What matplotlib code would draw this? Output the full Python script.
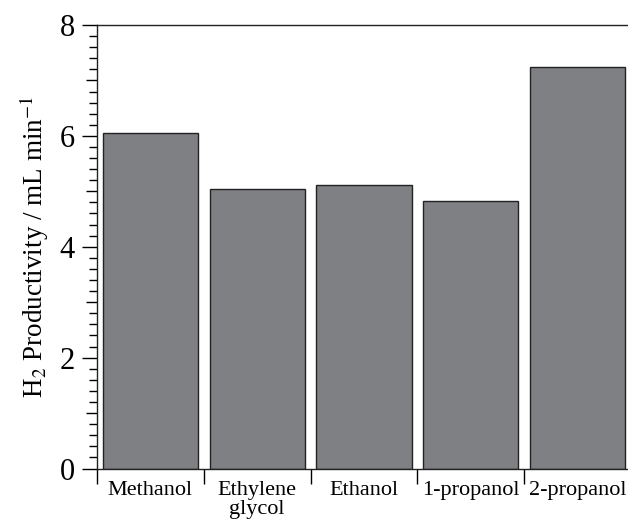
import matplotlib
matplotlib.use("Agg")
import matplotlib.pyplot as plt
import numpy as np

# Data
solvents = ["Methanol", "Ethylene\nglycol", "Ethanol", "1-propanol", "2-propanol"]
productivity = [6.05, 5.04, 5.12, 4.82, 7.25]

plt.rcParams['font.family'] = ['Liberation Serif', 'DejaVu Serif']
plt.rcParams['mathtext.fontset'] = 'stix'

fig = plt.figure(figsize=(6.28, 5.23), dpi=100)
# axis extends slightly past the right edge, as in the original
ax = fig.add_axes([97 / 628, 54.5 / 523, 534 / 628, 443.5 / 523])

x = np.arange(len(solvents))
ax.bar(x, productivity, width=0.89, color='#7f8084', edgecolor='#222222', linewidth=1.0)

ax.set_xlim(-0.5, len(solvents) - 0.5)
ax.set_ylim(0, 8)

# y ticks: majors every 2, odd integers medium, minors every 0.2
ax.set_yticks([0, 2, 4, 6, 8])
ax.set_yticks([v for v in np.arange(0, 8.01, 0.2) if abs(v - round(v)) > 1e-6], minor=True)
ax.tick_params(axis='y', which='major', direction='out', length=11, width=1.0,
               labelsize=22, pad=5)
ax.tick_params(axis='y', which='minor', direction='out', length=6, width=1.0)
sec = ax.secondary_yaxis('left')
sec.set_yticks([1, 3, 5, 7])
sec.tick_params(direction='out', length=8, width=1.0, labelleft=False)
sec.spines['left'].set_visible(False)

# x: category separators as ticks, labels centered in between
ax.set_xticks(np.arange(len(solvents) + 1) - 0.5)
ax.set_xticklabels([])
ax.set_xticks(x, minor=True)
ax.set_xticklabels(solvents, minor=True, fontsize=16, linespacing=1.0)
ax.tick_params(axis='x', which='major', direction='out', length=11, width=1.0)
ax.tick_params(axis='x', which='minor', length=0, pad=9)

ax.spines['right'].set_visible(False)
for s in ['left', 'bottom', 'top']:
    ax.spines[s].set_linewidth(1.0)
    ax.spines[s].set_color('#222222')

ax.set_ylabel('H$_2$ Productivity / mL min$^{-1}$', fontsize=19.5, labelpad=6)

fig.savefig('out.png', dpi=100)
